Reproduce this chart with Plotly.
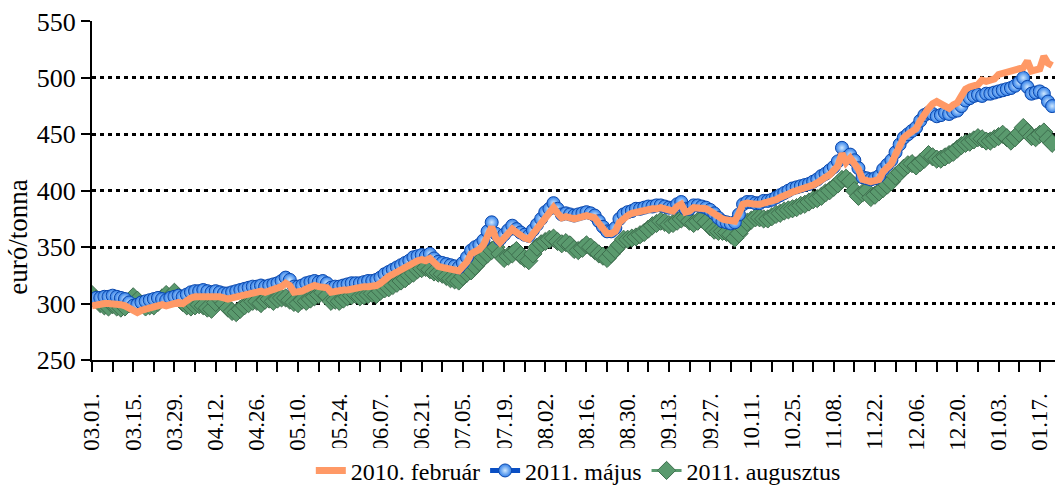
import pandas as pd
import plotly.graph_objects as go

# Trading days (weekdays) starting 2010-03-01
dates = pd.bdate_range("2010-03-01", periods=234)
categories = [d.strftime("%m.%d.") for d in dates]

feb_2010 = [
    298, 299, 299, 300, 300, 300, 299, 299, 298, 296,
    293, 292, 294, 295, 297, 298, 298, 299, 298, 299,
    300, 301, 300, 303, 305, 306, 306, 307, 307, 306,
    307, 306, 305, 304, 305, 306, 306, 307, 308, 310,
    310, 311, 310, 311, 312, 313, 315, 318, 316, 310,
    310, 311, 313, 314, 316, 315, 315, 314, 310, 311,
    311, 312, 312, 313, 313, 314, 315, 315, 315, 316,
    318, 322, 324, 326, 328, 330, 332, 334, 337, 338,
    339, 338, 340, 336, 333, 332, 331, 330, 329, 329,
    333, 337, 344, 346, 348, 352, 360, 368, 358, 354,
    358, 362, 366, 363, 360, 358, 357, 362, 367, 372,
    377, 381, 385, 380, 376, 377, 376, 375, 376, 377,
    378, 377, 376, 371, 367, 362, 362, 364, 372, 376,
    378, 380, 381, 382, 382, 383, 384, 384, 385, 384,
    383, 382, 386, 388, 381, 382, 385, 385, 384, 384,
    382, 379, 376, 375, 374, 373, 373, 380, 388, 389,
    388, 388, 388, 389, 389, 390, 392, 394, 395, 397,
    399, 400, 401, 402, 403, 405, 407, 410, 412, 414,
    417, 422, 433, 425, 429, 424, 419, 410, 409, 408,
    409, 410, 417, 421, 424, 432, 440, 447, 450, 452,
    455, 462, 469, 473, 477, 479, 477, 474, 473, 476,
    478, 484, 490, 492, 493, 494, 498, 497, 498, 499,
    503, 504, 505, 506, 506, 507, 509, 515, 506, 507,
    508, 519, 513, 511,
]

may_2011 = [
    303, 305, 305, 306, 306, 307, 306, 305, 304, 301,
    298, 299, 301, 302, 303, 304, 305, 304, 303, 305,
    306, 307, 306, 308, 310, 311, 311, 312, 311, 310,
    311, 310, 309, 309, 310, 311, 312, 313, 314, 315,
    315, 316, 315, 316, 317, 318, 320, 323, 321, 315,
    315, 316, 318, 319, 320, 319, 320, 318, 314, 315,
    315, 316, 317, 318, 318, 318, 319, 320, 320, 321,
    323, 326, 328, 330, 332, 334, 336, 338, 341, 342,
    343, 342, 344, 340, 337, 336, 335, 334, 333, 332,
    336, 341, 347, 350, 352, 356, 364, 372, 362, 357,
    361, 365, 369, 366, 363, 361, 360, 365, 370, 375,
    381, 384, 389, 384, 379, 380, 379, 378, 379, 380,
    381, 380, 378, 373, 368, 364, 364, 367, 375, 379,
    381, 382, 384, 384, 385, 386, 386, 387, 387, 386,
    385, 385, 388, 390, 384, 384, 387, 387, 386, 385,
    383, 380, 376, 373, 372, 371, 372, 379, 388, 390,
    390, 389, 389, 391, 391, 392, 394, 396, 398, 400,
    402, 403, 404, 405, 406, 408, 410, 413, 415, 418,
    421, 426, 438, 429, 432, 427, 420, 412, 411, 410,
    411, 413, 419, 423, 427, 434, 441, 447, 450, 453,
    456, 462, 467, 469, 468, 466, 467, 469, 468, 470,
    471, 475, 480, 482, 484, 485, 484, 486, 486, 487,
    488, 489, 490, 491, 493, 496, 500, 492, 486, 487,
    488, 486, 479, 475,
]

aug_2011 = [
    308, 304, 300, 298, 297, 299, 297, 296, 297, 300,
    306, 303, 299, 297, 298, 298, 301, 305, 308, 306,
    310, 306, 301, 298, 297, 298, 299, 298, 296, 295,
    301, 304, 300, 296, 293, 292, 295, 298, 300, 302,
    302, 300, 303, 304, 302, 304, 305, 305, 303, 301,
    300, 303, 302, 304, 306, 308, 310, 307, 302, 303,
    302, 304, 306, 307, 308, 306, 307, 308, 309, 308,
    311, 313, 314, 316, 318, 320, 322, 325, 327, 330,
    331, 332, 330, 328, 327, 326, 324, 322, 321, 320,
    324, 327, 329, 333, 337, 341, 344, 347, 350, 344,
    340, 342, 344, 347, 343, 340, 338, 344, 350, 353,
    355, 357, 358, 355, 353, 354, 352, 348, 347, 349,
    352, 350, 347, 344, 342, 340, 344, 348, 352, 357,
    357, 358, 359, 361, 363, 366, 369, 371, 373, 372,
    370, 371, 373, 375, 376, 373, 371, 373, 375, 372,
    368, 365, 364, 364, 363, 361, 358, 362, 367, 372,
    374, 376, 376, 375, 375, 377, 379, 380, 382, 383,
    384, 385, 387, 388, 390, 392, 393, 395, 398, 400,
    403, 406, 410, 411, 408, 400, 395, 398, 400, 394,
    396, 399, 402, 405, 408, 413, 416, 420, 423, 424,
    422, 425, 428, 432, 430, 428, 428, 430, 432, 434,
    437, 440, 442, 443, 445, 447, 446, 444, 444, 446,
    448, 450, 447, 444, 447, 451, 456, 452, 448, 447,
    450, 452, 446, 442,
]

tick_vals = categories[::5]
tick_text = [c if k % 2 == 0 else "" for k, c in enumerate(tick_vals)]

FONT = "Liberation Serif, Times New Roman, serif"

fig = go.Figure()
fig.add_trace(go.Scatter(
    x=categories, y=aug_2011, name="2011. augusztus", mode="lines+markers",
    line=dict(color="#5A9A6E", width=3),
    marker=dict(symbol="diamond", size=14, color="#5A9A6E",
                line=dict(color="#3E6E4E", width=1)),
    legendrank=3,
))
fig.add_trace(go.Scatter(
    x=categories, y=may_2011, name="2011. május", mode="lines+markers",
    line=dict(color="#0A4FC4", width=5),
    marker=dict(symbol="circle", size=13, color="#2F7EE8",
                gradient=dict(type="radial", color="#CFE8FF"),
                line=dict(color="#0B47AC", width=1)),
    legendrank=2,
))
fig.add_trace(go.Scatter(
    x=categories, y=feb_2010, name="2010. február", mode="lines",
    line=dict(color="#FF9966", width=7),
    legendrank=1,
))

fig.update_layout(
    width=1055, height=489,
    margin=dict(l=92, r=0, t=21, b=129, autoexpand=False),
    paper_bgcolor="white", plot_bgcolor="white",
    font=dict(family=FONT, size=24, color="black"),
    showlegend=True,
    legend=dict(orientation="h", x=0.505, xanchor="center", y=-0.327,
                yanchor="middle", font=dict(size=24), itemwidth=30,
                tracegroupgap=0),
    xaxis=dict(
        type="category", range=[0, 233.7], automargin=False,
        tickmode="array", tickvals=tick_vals, ticktext=tick_text,
        tickangle=-90, ticks="outside", ticklen=10, tickwidth=2,
        tickcolor="black", showline=True, linecolor="black", linewidth=2,
        showgrid=False, tickfont=dict(size=23), ticklabelstandoff=12,
    ),
    yaxis=dict(
        range=[250, 550.4], tickvals=[250, 300, 350, 400, 450, 500, 550],
        automargin=False,
        ticks="outside", ticklen=9, tickwidth=2, tickcolor="black",
        showline=True, linecolor="black", linewidth=2,
        showgrid=True, gridcolor="black", gridwidth=3, griddash="4px,4px",
        zeroline=False, tickfont=dict(size=26),
    ),
    annotations=[dict(
        text="euró/tonna", textangle=-90, xref="paper", yref="paper",
        x=-0.077, y=0.363, xanchor="center", yanchor="middle",
        showarrow=False, font=dict(size=27),
    )],
)

fig.write_html(
    "out.html",
    config={"displayModeBar": False},
    post_script="document.body.style.margin='0';document.body.style.padding='0';",
)
